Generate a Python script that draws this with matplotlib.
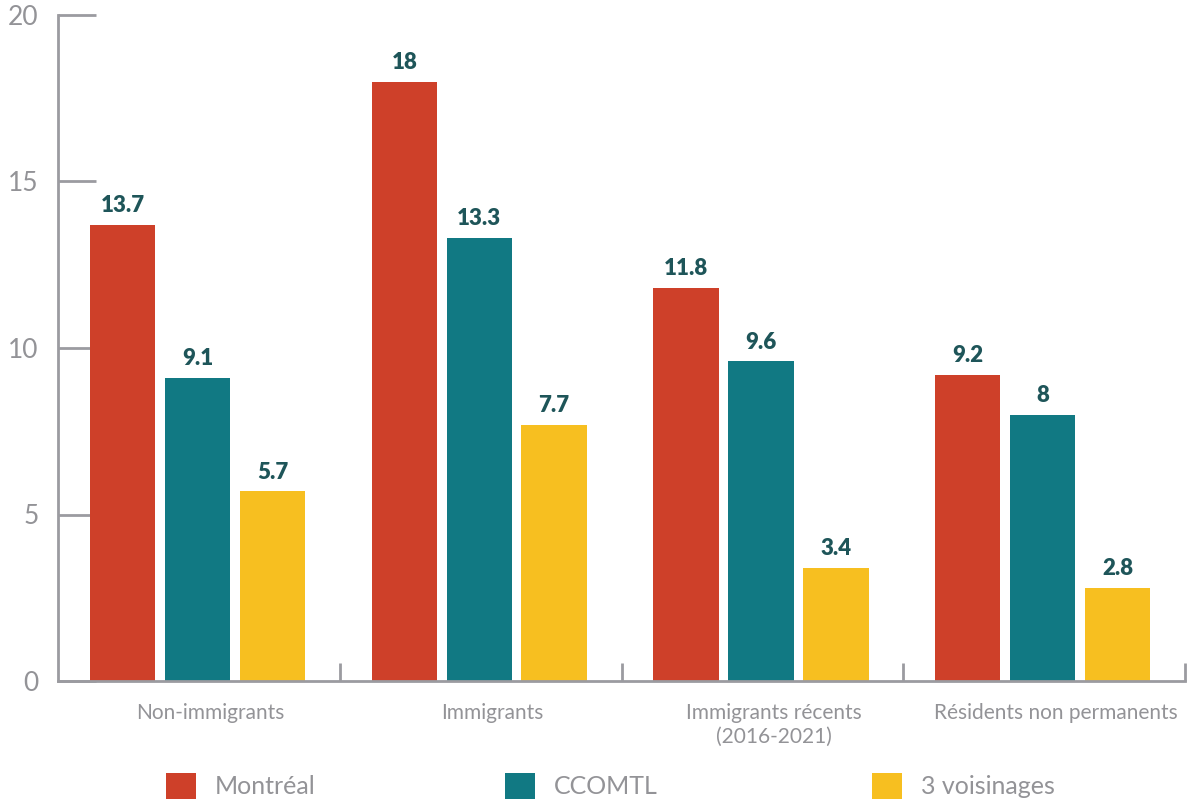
import numpy as np
import matplotlib
matplotlib.use('Agg')
import matplotlib.pyplot as plt

categories = ['Non-immigrants', 'Immigrants', 'Immigrants récents\n(2016-2021)', 'Résidents non permanents']
series_names = ['Montréal', 'CCOMTL', '3 voisinages']
montreal = [13.7, 18, 11.8, 9.2]
ccomtl = [9.1, 13.3, 9.6, 8]
voisinages = [5.7, 7.7, 3.4, 2.8]
value_labels = [['13.7', '18', '11.8', '9.2'],
                ['9.1', '13.3', '9.6', '8'],
                ['5.7', '7.7', '3.4', '2.8']]

colors = ['#CE4029', '#117983', '#F7BF20']
grey = '#9B9BA0'
text_grey = '#939397'
label_color = '#1E5559'

plt.rcParams['font.family'] = ['Lato', 'DejaVu Sans']

fig = plt.figure(figsize=(11.87, 8), dpi=100)
ax = fig.add_axes([58 / 1187, 1 - 681 / 800, (1185 - 58) / 1187, (681 - 15) / 800])

x = np.arange(len(categories))
width = 0.232
step = 0.266
handles = []
for i, (vals, col) in enumerate(zip([montreal, ccomtl, voisinages], colors)):
    pos = x + (i - 1) * step - 0.005
    bars = ax.bar(pos, vals, width=width, color=col, label=series_names[i], zorder=2)
    handles.append(bars)
    for b, txt in zip(bars, value_labels[i]):
        ax.text(b.get_x() + b.get_width() / 2, b.get_height() + 0.26, txt,
                ha='center', va='bottom', fontsize=16, fontweight='heavy',
                color=label_color)

ax.set_xlim(-0.5, len(categories) - 0.5)
ax.set_ylim(0, 20)

for s in ['top', 'right']:
    ax.spines[s].set_visible(False)
for s in ['left', 'bottom']:
    ax.spines[s].set_color(grey)
    ax.spines[s].set_linewidth(2)

ax.set_yticks([0, 5, 10, 15, 20])
ax.tick_params(axis='y', direction='in', length=27, width=2, color=grey,
               labelsize=19, labelcolor=text_grey, pad=14)

# category boundaries as ticks, labels at centres
ax.set_xticks(np.arange(len(categories)) + 0.5)
ax.set_xticklabels([])
ax.tick_params(axis='x', direction='in', length=13, width=2, color=grey)
ax.set_xticks(x + 0.04, minor=True)
ax.set_xticklabels(categories, minor=True, fontsize=15, color=text_grey,
                   linespacing=1.25)
ax.tick_params(axis='x', which='minor', length=0, pad=16)

# one legend entry per series, spaced like the original
leg_x = [156 / 1187, 495 / 1187, 862 / 1187]
for h, name, lx in zip(handles, series_names, leg_x):
    leg = fig.legend([h], [name], loc='upper left', bbox_to_anchor=(lx, 0.046),
                     frameon=False, fontsize=18, handlelength=1.2, handleheight=1.2,
                     handletextpad=0.75, borderaxespad=0)
    for t in leg.get_texts():
        t.set_color(text_grey)

fig.savefig('out.png', dpi=100)
